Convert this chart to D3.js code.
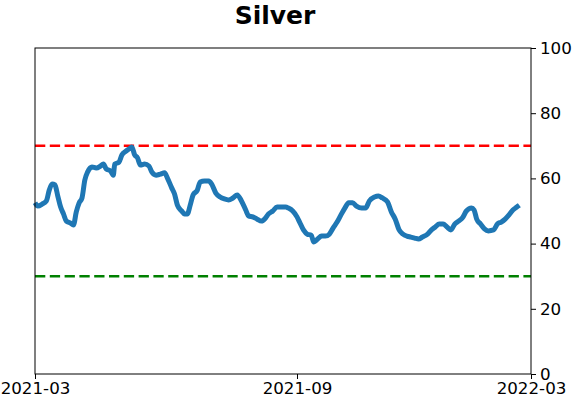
<!DOCTYPE html>
<html>
<head>
<meta charset="utf-8">
<script src="https://cdn.jsdelivr.net/npm/d3@7"></script>
<style>
  html, body { margin: 0; padding: 0; background: #fff; }
  svg { display: block; font-family: "DejaVu Sans", sans-serif; }
</style>
</head>
<body>
<div id="chart"></div>
<script>
const title = "Silver";
const dates = [
  "2021-03-01","2021-03-03","2021-03-06","2021-03-09","2021-03-11","2021-03-13","2021-03-15","2021-03-17","2021-03-19","2021-03-21",
  "2021-03-23","2021-03-26","2021-03-28","2021-03-30","2021-04-01","2021-04-03","2021-04-05","2021-04-07","2021-04-10","2021-04-13",
  "2021-04-16","2021-04-18","2021-04-20","2021-04-23","2021-04-25","2021-04-26","2021-04-29","2021-05-01","2021-05-04","2021-05-06",
  "2021-05-08","2021-05-10","2021-05-12","2021-05-14","2021-05-17","2021-05-20","2021-05-22","2021-05-25","2021-05-28","2021-05-31",
  "2021-06-02","2021-06-05","2021-06-07","2021-06-09","2021-06-12","2021-06-14","2021-06-16","2021-06-18","2021-06-20","2021-06-23",
  "2021-06-25","2021-06-28","2021-07-01","2021-07-03","2021-07-06","2021-07-09","2021-07-12","2021-07-15","2021-07-18","2021-07-21",
  "2021-07-24","2021-07-27","2021-07-29","2021-08-01","2021-08-04","2021-08-07","2021-08-10","2021-08-12","2021-08-15","2021-08-18",
  "2021-08-21","2021-08-24","2021-08-26","2021-08-29","2021-09-01","2021-09-03","2021-09-06","2021-09-09","2021-09-12","2021-09-14",
  "2021-09-17","2021-09-20","2021-09-23","2021-09-26","2021-09-29","2021-10-02","2021-10-05","2021-10-08","2021-10-11","2021-10-14",
  "2021-10-17","2021-10-21","2021-10-24","2021-10-27","2021-10-31","2021-11-03","2021-11-06","2021-11-10","2021-11-13","2021-11-16",
  "2021-11-19","2021-11-22","2021-11-25","2021-11-28","2021-12-01","2021-12-04","2021-12-07","2021-12-11","2021-12-14","2021-12-17",
  "2021-12-20","2021-12-23","2021-12-26","2021-12-29","2022-01-01","2022-01-04","2022-01-07","2022-01-10","2022-01-14","2022-01-16",
  "2022-01-18","2022-01-21","2022-01-24","2022-01-27","2022-01-31","2022-02-03","2022-02-06","2022-02-09","2022-02-12","2022-02-15",
  "2022-02-18","2022-02-20"
];
const values = [
  52.5,51.5,52.1,53.1,56.4,58.3,58.0,54.6,51.2,49.1,
  46.9,46.3,45.7,49.7,52.5,54.0,59.5,62.0,63.5,63.2,
  63.8,64.4,62.9,62.3,61.0,64.4,65.0,67.2,68.4,69.0,
  69.6,67.2,66.3,64.1,64.4,63.8,62.0,61.0,61.3,61.7,
  60.1,57.1,55.2,51.8,50.0,49.1,49.1,51.8,54.9,56.4,
  58.9,59.2,59.2,58.3,55.5,54.3,53.7,53.4,54.0,54.9,
  53.1,50.3,48.5,48.2,47.5,46.9,47.9,49.1,50.0,51.2,
  51.2,51.2,50.9,50.0,48.2,46.6,44.2,42.9,42.6,40.5,
  41.4,42.3,42.3,42.9,44.8,46.6,48.8,50.9,52.5,52.5,
  51.5,50.9,50.9,53.1,54.3,54.6,54.0,52.8,49.7,47.5,
  44.2,42.9,42.3,42.0,41.7,41.4,42.0,42.9,44.2,45.1,
  46.0,46.0,45.1,44.2,46.0,46.9,47.9,50.0,50.9,50.3,
  47.5,46.0,44.5,43.9,44.2,46.0,46.6,47.5,48.8,50.3,
  51.2,51.8
];
const xTickDates = ["2021-03-01","2021-09-01","2022-03-01"];
const xTickLabels = ["2021-03","2021-09","2022-03"];
const yTicks = [0,20,40,60,80,100];
const upperLevel = 70;
const lowerLevel = 30;

const W = 572, H = 402;
const mLeft = 35, mRight = 531, mTop = 48, mBottom = 374;
const parse = d3.timeParse("%Y-%m-%d");
const data = dates.map((d, i) => ({ date: parse(d), value: values[i] }));
const tickDates = xTickDates.map(parse);

const x = d3.scaleTime().domain(tickDates).range([mLeft, 297, mRight]);
const y = d3.scaleLinear().domain([0, 100]).range([mBottom, mTop]);

const svg = d3.select("#chart").append("svg").attr("width", W).attr("height", H);

svg.append("text")
  .attr("x", 275).attr("y", 24)
  .attr("text-anchor", "middle")
  .attr("font-size", 25).attr("font-weight", "bold")
  .attr("fill", "#000")
  .text(title);

// reference lines
svg.append("line")
  .attr("x1", mLeft).attr("x2", mRight)
  .attr("y1", y(upperLevel)).attr("y2", y(upperLevel))
  .attr("stroke", "#ff0000").attr("stroke-width", 2.6)
  .attr("stroke-dasharray", "10.3,4.5");
svg.append("line")
  .attr("x1", mLeft).attr("x2", mRight)
  .attr("y1", y(lowerLevel)).attr("y2", y(lowerLevel))
  .attr("stroke", "#008000").attr("stroke-width", 2.6)
  .attr("stroke-dasharray", "10.3,4.5");

// data line
svg.append("path")
  .datum(data)
  .attr("fill", "none")
  .attr("stroke", "#1f77b4")
  .attr("stroke-width", 5)
  .attr("stroke-linejoin", "round")
  .attr("stroke-linecap", "butt")
  .attr("d", d3.line().x(d => x(d.date)).y(d => y(d.value)).curve(d3.curveMonotoneX));

// frame
svg.append("rect")
  .attr("x", mLeft).attr("y", mTop)
  .attr("width", mRight - mLeft).attr("height", mBottom - mTop)
  .attr("fill", "none").attr("stroke", "#000").attr("stroke-width", 1);

// x axis
const xAxis = d3.axisBottom(x)
  .tickValues(tickDates)
  .tickFormat((d, i) => xTickLabels[i])
  .tickSize(5).tickPadding(3);
const gx = svg.append("g").attr("transform", `translate(0,${mBottom})`).call(xAxis);
gx.select(".domain").remove();
gx.selectAll("text").attr("font-size", 16.7).attr("fill", "#000").attr("font-family", "DejaVu Sans");
gx.selectAll("line").attr("stroke", "#000");

// y axis right
const yAxis = d3.axisRight(y).tickValues(yTicks).tickSize(5).tickPadding(4);
const gy = svg.append("g").attr("transform", `translate(${mRight},0)`).call(yAxis);
gy.select(".domain").remove();
gy.selectAll("text").attr("font-size", 16.7).attr("fill", "#000").attr("font-family", "DejaVu Sans");
gy.selectAll("line").attr("stroke", "#000");
</script>
</body>
</html>
